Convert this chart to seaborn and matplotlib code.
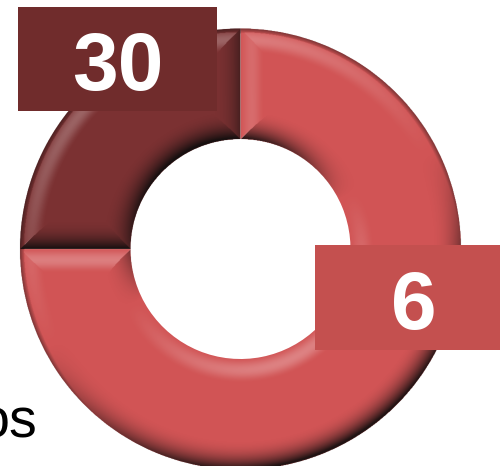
import numpy as np
import matplotlib
matplotlib.use('Agg')
import matplotlib.pyplot as plt
import seaborn as sns

# datos
slice_shares = [75, 25]
slice_labels = ['6', '30']
slice_colors = ['#D15455', '#7B3132']
box_colors = ['#C4504F', '#702C2C']
legend_tail = 'os'

sns.set_theme(style='white')
plt.rcParams['font.family'] = ['Liberation Sans', 'DejaVu Sans']

cx, cy = 240.5, 249
r_out, r_in = 220.5, 110
bevel = 30

fig = plt.figure(figsize=(5, 4.66), dpi=100)
ax = fig.add_axes([0, 0, 1, 1])

# dona base
wedges, _ = ax.pie(slice_shares, colors=sns.color_palette(slice_colors), startangle=90,
                   counterclock=False, radius=r_out, center=(cx, -cy),
                   wedgeprops={'width': r_out - r_in, 'linewidth': 0}, frame=True)

# relieve: capa de sombra y brillo encima de la dona
xs = np.arange(0, 500, 0.5) + 0.25
ys = -(np.arange(0, 466, 0.5) + 0.25)
X, Y = np.meshgrid(xs, ys)
dx, dy = X - cx, Y + cy
R = np.hypot(dx, dy)
ang = np.degrees(np.arctan2(dy, dx)) % 360
ux, uy = dx / np.maximum(R, 1e-6), dy / np.maximum(R, 1e-6)
tx, ty = -uy, ux  # tangente antihoraria

best = np.minimum(r_out - R, R - r_in)
nx = np.where(r_out - R < R - r_in, ux, -ux)
ny = np.where(r_out - R < R - r_in, uy, -uy)
for w in wedges:
    t1, t2 = w.theta1 % 360, w.theta2 % 360
    rel = (ang - t1) % 360
    span = (t2 - t1) % 360
    inside = rel <= span
    d_start = np.radians(rel) * R
    d_end = np.radians(span - rel) * R
    near_start = inside & (d_start < best) & (d_start <= d_end)
    near_end = inside & (d_end < best) & (d_end < d_start)
    best = np.where(near_start, d_start, np.where(near_end, d_end, best))
    nx = np.where(near_start, -tx, np.where(near_end, tx, nx))
    ny = np.where(near_start, -ty, np.where(near_end, ty, ny))

light = np.array([-0.45, 0.89])
dot = nx * light[0] + ny * light[1]
t = np.clip(best / bevel, 0, 1)
dark_a = np.clip(-dot, 0, 1) * (1 - t) ** 2.2 * 1.05
lite_a = np.clip(dot, 0, 1) * np.sin(np.pi * np.clip(t * 1.1 + 0.1, 0, 1)) ** 2 * 0.27

# borde fino oscuro por fuera
rim = np.clip(1 - (r_out - R) / 5, 0, 1) * 0.45
dark_a = np.maximum(dark_a, rim)

ring = (R <= r_out) & (R >= r_in)
shade = np.zeros(X.shape + (4,))
shade[..., :3] = np.where((lite_a > dark_a)[..., None], 1.0, 0.05)
shade[..., 3] = np.where(ring, np.clip(np.maximum(lite_a, dark_a), 0, 0.9), 0)
ax.imshow(shade, extent=(0, 500, -466, 0), origin='upper', zorder=2, aspect='equal')

# etiquetas en caja
box_pos = [(315, 245, 185, 105), (18, 7, 199, 104)]
text_pos = [(414, 308), (118, 69)]
for lab, col, (bx, by, bw, bh), (lx, ly) in zip(slice_labels, box_colors, box_pos, text_pos):
    ax.add_patch(plt.Rectangle((bx, -by - bh), bw, bh, color=col, lw=0, zorder=3))
    ax.text(lx, -ly, lab, color='white', fontsize=59,
            fontweight='bold', ha='center', va='center', zorder=4)

ax.text(37, -438, legend_tail, color='black', fontsize=40, ha='right', va='baseline', zorder=4)

ax.set_xlim(0, 500)
ax.set_ylim(-466, 0)
ax.axis('off')
fig.savefig('out.png', dpi=100, facecolor='white')
